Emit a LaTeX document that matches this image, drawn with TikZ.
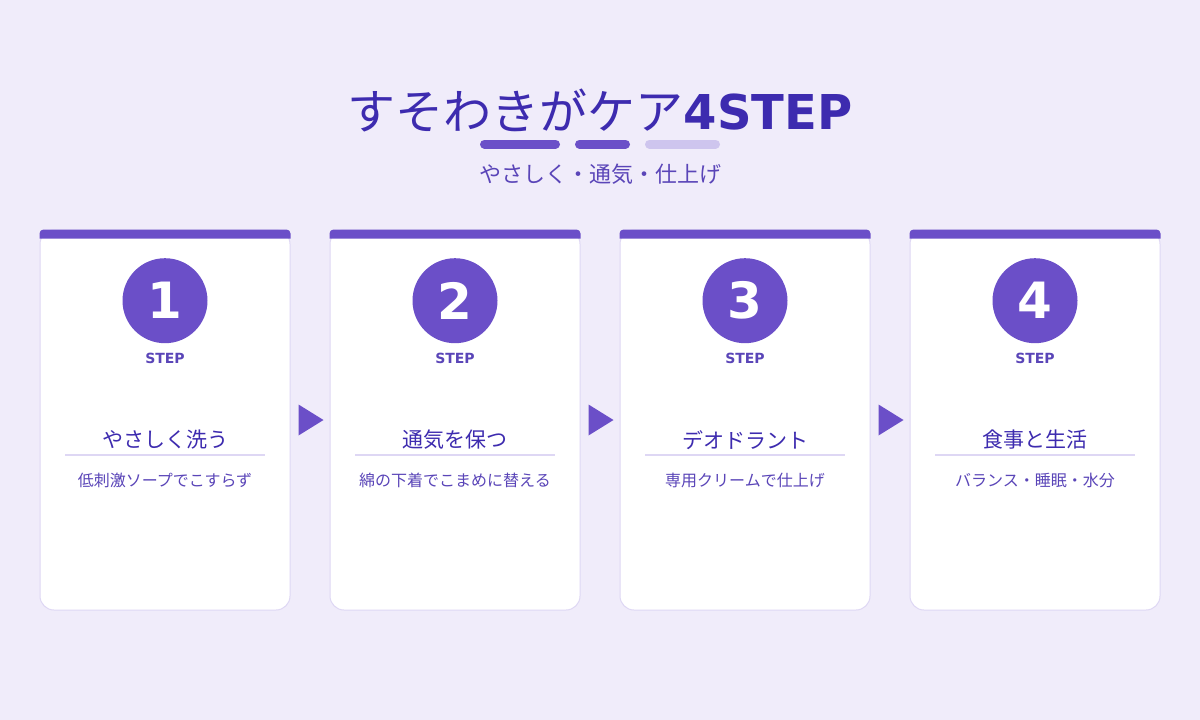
\documentclass[tikz,border=0pt]{standalone}
\usepackage{fontspec}
\setmainfont{DejaVu Sans}
\newfontfamily\jpfont{Noto Sans CJK JP}
\usepackage{xcolor}
\usetikzlibrary{positioning,calc}
\definecolor{bgcol}{HTML}{F0ECFA}
\definecolor{accent}{HTML}{6B4FC8}
\definecolor{ink}{HTML}{3D2BAF}
\definecolor{softink}{HTML}{5A45B8}
\definecolor{rule}{HTML}{DED7F4}
\definecolor{pale}{HTML}{CEC5EE}

\begin{document}
\begin{tikzpicture}[x=1pt,y=-1pt,
    card/.style={draw=rule,line width=1pt,fill=white,rounded corners=14pt,
      minimum width=250pt,minimum height=380pt,inner sep=0pt},
    badge/.style={circle,fill=accent,text=white,minimum size=85pt,inner sep=0pt,
      font=\fontsize{50}{50}\selectfont\bfseries},
    steplbl/.style={text=softink,inner sep=0pt,font=\fontsize{14}{14}\selectfont\bfseries},
    cardtitle/.style={text=ink,inner sep=0pt,font=\jpfont\fontsize{21}{21}\selectfont},
    carddesc/.style={text=softink,inner sep=0pt,font=\jpfont\fontsize{16}{16}\selectfont}]

  \fill[bgcol] (0,0) rectangle (1200,720);

  % heading
  \node[text=ink,inner sep=0pt,font=\fontsize{48}{56}\selectfont] (title) at (600,110)
    {{\jpfont すそわきがケア}{\bfseries 4STEP}};
  \draw[accent,line width=9pt,line cap=round] (484.5,144) -- (555.5,144);
  \draw[accent,line width=9pt,line cap=round] (579.5,144) -- (625.5,144);
  \draw[pale,line width=9pt,line cap=round] (649.5,144) -- (715.5,144);
  \node[text=softink,inner sep=0pt,font=\jpfont\fontsize{22}{22}\selectfont] (subtitle) at (600,174)
    {やさしく・通気・仕上げ};

  % the four cards
  \foreach \i/\x/\head/\desc in {1/165/やさしく洗う/低刺激ソープでこすらず,
      2/455/通気を保つ/綿の下着でこまめに替える,
      3/745/デオドラント/専用クリームで仕上げ,
      4/1035/食事と生活/バランス・睡眠・水分}{
    \node[card] (card\i) at (\x,420) {};
    \fill[accent] ($(card\i.north west)+(0,9)$) [rounded corners=4pt] -- (card\i.north west)
      -- (card\i.north east) [sharp corners] -- ($(card\i.north east)+(0,9)$) -- cycle;
    \node[badge,below=28.5pt of card\i.north] (badge\i) {\i};
    \node[steplbl,below=10pt of badge\i] (step\i) {STEP};
    \node[cardtitle] (head\i) at (\x,440) {\head};
    \draw[rule,line width=2pt] ($(card\i.center)+(-100,35)$) -- ($(card\i.center)+(100,35)$);
    \node[carddesc] (desc\i) at (\x,480) {\desc};
  }

  % pointers between cards
  \foreach \i in {1,2,3}
    \fill[accent] ($(card\i.east)+(8,-15.5)$) -- ($(card\i.east)+(33,0)$)
      -- ($(card\i.east)+(8,15.5)$) -- cycle;
\end{tikzpicture}
\end{document}
